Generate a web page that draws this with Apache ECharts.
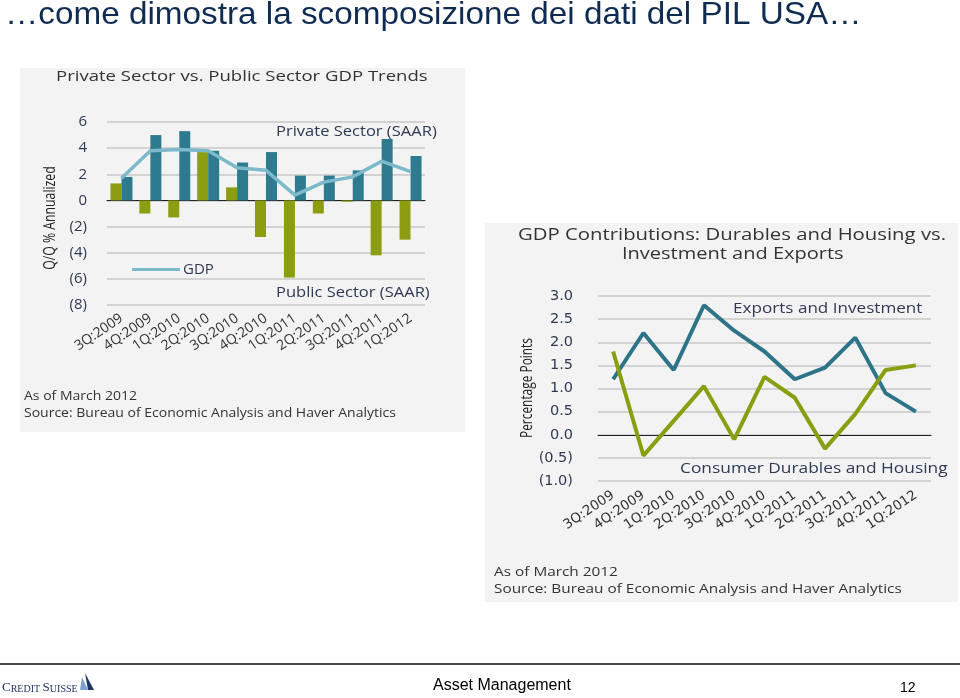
<!DOCTYPE html>
<html>
<head>
<meta charset="utf-8">
<script src="https://cdn.jsdelivr.net/npm/echarts@6/dist/echarts.min.js"></script>
<style>
html,body{margin:0;padding:0;background:#ffffff;}
#main{width:960px;height:698px;}
</style>
</head>
<body>
<div id="main"></div>
<script>
// ---- data ----
var categories = ['3Q:2009','4Q:2009','1Q:2010','2Q:2010','3Q:2010','4Q:2010','1Q:2011','2Q:2011','3Q:2011','4Q:2011','1Q:2012'];
var publicSector = [1.3, -1.0, -1.3, 3.7, 1.0, -2.8, -5.9, -1.0, -0.1, -4.2, -3.0];
var privateSector = [1.8, 5.0, 5.3, 3.8, 2.9, 3.7, 1.9, 1.9, 2.3, 4.7, 3.4];
var gdp = [1.7, 3.8, 3.9, 3.8, 2.5, 2.3, 0.4, 1.4, 1.8, 3.0, 2.2];
var exportsInvestment = [1.2, 2.2, 1.4, 2.8, 2.25, 1.8, 1.2, 1.45, 2.1, 0.9, 0.5];
var durablesHousing = [1.8, -0.45, 0.3, 1.05, -0.1, 1.25, 0.8, -0.3, 0.45, 1.4, 1.5];

var FONT = "'Open Sans', 'DejaVu Sans', sans-serif";
var WIDE = "'DejaVu Sans', 'Open Sans', sans-serif";
var TXT = '#2e3a55';
var GRIDC = '#c9c9c9';

function fmtInt(v){ return v < 0 ? '(' + Math.abs(v) + ')' : String(v); }
function fmtDec(v){ return v < 0 ? '(' + Math.abs(v).toFixed(1) + ')' : v.toFixed(1); }

// text helper: x = left (or centre), y = vertical middle, sx = horizontal stretch
function label(txt, x, y, size, color, sx, align, family) {
  return {type:'text', x:x, y:y, scaleX:sx || 1, z:10,
    style:{text:txt, font:size + 'px ' + (family || FONT), fill:color, align:align || 'left', verticalAlign:'middle'}};
}
function vlabel(txt, x, y, size, color, sx) {
  return {type:'text', x:x, y:y, rotation:Math.PI/2, scaleX:sx, z:10,
    style:{text:txt, font:size + "px " + FONT, fill:color, align:'center', verticalAlign:'middle'}};
}

var chart = echarts.init(document.getElementById('main'), null, {renderer:'canvas'});
var option = {
  backgroundColor: '#ffffff',
  animation: false,
  graphic: [
    // panels
    {type:'rect', z:-10, shape:{x:20,y:68,width:445,height:364}, style:{fill:'#f3f3f3'}},
    {type:'rect', z:-10, shape:{x:485,y:223,width:473,height:379}, style:{fill:'#f3f3f3'}},
    // slide title
    {type:'text', x:5, y:-1, scaleX:1.04, style:{text:'\u2026come dimostra la scomposizione dei dati del PIL USA\u2026', font:"32px 'Liberation Sans', Arial, sans-serif", fill:'#0f2b52', verticalAlign:'top'}},
    // chart 1 texts
    label('Private Sector vs. Public Sector GDP Trends', 56, 77, 15, '#333', 1.237),
    label('Private Sector (SAAR)', 276, 132, 14, TXT, 1.18),
    label('Public Sector (SAAR)', 276, 293, 14, TXT, 1.18),
    label('As of March 2012', 24, 396, 12.5, '#333', 1.12),
    label('Source: Bureau of Economic Analysis and Haver Analytics', 24, 413, 12.5, '#333', 1.12),
    vlabel('Q/Q % Annualized', 50, 218, 17, '#222', 0.72),
    // chart 2 texts
    label('GDP Contributions: Durables and Housing vs.', 518, 235, 16, '#333', 1.27),
    label('Investment and Exports', 622, 254, 16, '#333', 1.25),
    label('Exports and Investment', 733, 309, 15, TXT, 1.14),
    label('Consumer Durables and Housing', 680, 469, 15, TXT, 1.156),
    label('As of March 2012', 494, 572, 13.5, '#333', 1.137),
    label('Source: Bureau of Economic Analysis and Haver Analytics', 494, 589, 13.5, '#333', 1.137),
    vlabel('Percentage Points', 527, 388, 17, '#222', 0.70),
    // footer
    {type:'rect', shape:{x:0,y:663,width:960,height:2}, style:{fill:'#4a4a4a'}},
    {type:'text', x:2, y:688, z:10, style:{
      text:'{a|C}{b|REDIT }{a|S}{b|UISSE}', verticalAlign:'middle',
      rich:{a:{font:"13px 'Liberation Serif', serif", fill:'#1d3566', verticalAlign:'bottom'},
            b:{font:"10px 'Liberation Serif', serif", fill:'#1d3566', verticalAlign:'bottom'}}}},
    {type:'polygon', shape:{points:[[82,677],[88,690],[80,690]]}, style:{fill:'#7fa2cc'}},
    {type:'polygon', shape:{points:[[85,673],[94,690],[88,690]]}, style:{fill:'#1d3566'}},
    label('Asset Management', 433, 686, 16, '#000', 1, 'left', "'Liberation Sans', Arial, sans-serif"),
    label('12', 900, 688, 14, '#000', 1, 'left', "'Liberation Sans', Arial, sans-serif")
  ],
  legend: {
    data: [{name:'GDP', icon:'rect'}],
    left: 127, top: 257,
    itemWidth: 48, itemHeight: 3, itemGap: 4,
    textStyle: {fontFamily: FONT, fontSize: 15, color: TXT, padding:[0,0,0,-2]}
  },
  grid: [
    {left:107, right:535, top:122, bottom:393, containLabel:false},
    {left:598, right:29, top:296, bottom:217, containLabel:false}
  ],
  xAxis: [
    {gridIndex:0, type:'category', data:categories,
      axisLine:{onZero:true, lineStyle:{color:'#222', width:1}},
      axisTick:{show:false},
      axisLabel:{interval:0, rotate:34, margin:12, fontFamily:FONT, fontSize:14, color:'#333'}
    },
    {gridIndex:1, type:'category', data:categories,
      axisLine:{onZero:true, lineStyle:{color:'#222', width:1}},
      axisTick:{show:false},
      axisLabel:{interval:0, rotate:34, margin:13, fontFamily:WIDE, fontSize:13.5, color:'#333'}
    }
  ],
  yAxis: [
    {gridIndex:0, type:'value', min:-8, max:6, interval:2,
      axisLine:{show:false}, axisTick:{show:false},
      splitLine:{lineStyle:{color:GRIDC, width:1.5}},
      axisLabel:{formatter:fmtInt, margin:20, fontFamily:FONT, fontSize:15, color:TXT}
    },
    {gridIndex:1, type:'value', min:-1, max:3, interval:0.5,
      axisLine:{show:false}, axisTick:{show:false},
      splitLine:{lineStyle:{color:GRIDC, width:1.5}},
      axisLabel:{formatter:fmtDec, margin:25, fontFamily:WIDE, fontSize:14.5, color:TXT}
    }
  ],
  series: [
    {name:'Public Sector (SAAR)', type:'bar', xAxisIndex:0, yAxisIndex:0, data:publicSector,
      barWidth:11, barGap:'0%', itemStyle:{color:'#8c9d0f'}},
    {name:'Private Sector (SAAR)', type:'bar', xAxisIndex:0, yAxisIndex:0, data:privateSector,
      barWidth:11, barGap:'0%', itemStyle:{color:'#2e7a8f'}},
    {name:'GDP', type:'line', xAxisIndex:0, yAxisIndex:0, data:gdp, symbol:'none',
      lineStyle:{color:'#7bb9cb', width:3.5}, itemStyle:{color:'#7bb9cb'}, z:5},
    {name:'Exports and Investment', type:'line', xAxisIndex:1, yAxisIndex:1, data:exportsInvestment, symbol:'none',
      lineStyle:{color:'#2e7489', width:4}, itemStyle:{color:'#2e7489'}},
    {name:'Consumer Durables and Housing', type:'line', xAxisIndex:1, yAxisIndex:1, data:durablesHousing, symbol:'none',
      lineStyle:{color:'#8a9e12', width:4}, itemStyle:{color:'#8a9e12'}}
  ]
};
chart.setOption(option);
</script>
</body>
</html>
